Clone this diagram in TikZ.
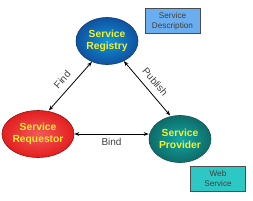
\documentclass[tikz,border=0pt]{standalone}
\usepackage{fontspec}
\setmainfont{Liberation Sans}
\usepackage{xcolor}
\usetikzlibrary{arrows.meta,shapes.geometric,positioning,calc}
\definecolor{regblue}{HTML}{1466C8}
\definecolor{reqred}{HTML}{F02020}
\definecolor{provteal}{HTML}{14908C}
\definecolor{descblue}{HTML}{6AAEF0}
\definecolor{webteal}{HTML}{2EC8C4}
\definecolor{txtyellow}{HTML}{F4F02A}

\begin{document}
\begin{tikzpicture}[
  x=1pt, y=-1pt,
  every node/.style={font=\small},
  party/.style={ellipse, minimum width=62pt, minimum height=47pt, inner sep=0pt,
    align=center, font=\fontsize{10.3}{12}\bfseries\selectfont, text=txtyellow, line width=0.6pt},
  infobox/.style={rectangle, draw=black!70, line width=0.8pt, minimum width=55pt,
    minimum height=25pt, align=center, font=\fontsize{8.2}{10}\selectfont, text=black!75},
  link/.style={{Stealth[length=5pt]}-{Stealth[length=5pt]}, line width=0.8pt},
  linklabel/.style={font=\fontsize{10}{12}\selectfont, text=black!75},
]
\useasboundingbox (0,0) rectangle (253,200);
\node[party, draw=regblue!60!black, inner color=regblue!70!cyan, outer color=regblue!80!black]
  (registry) at (107, 41) {Service\\Registry};
\node[party, draw=reqred!60!black, inner color=reqred!75!white, outer color=reqred!95!black]
  (requestor) at (38, 134) {Service\\Requestor};
\node[party, draw=provteal!60!black, inner color=provteal!80!cyan, outer color=provteal!75!black]
  (provider) at (180, 139) {Service\\Provider};
\node[infobox, fill=descblue] (desc) at (172.5, 21) {Service\\Description};
\node[infobox, fill=webteal] (web) at (218, 178.5) {Web\\Service};
% connectors
\draw[link, shorten <=1pt] (requestor.66) -- (registry.234)
  node[linklabel, midway, sloped, anchor=south, yshift=3pt] (find) {Find};
\draw[link, shorten >=1pt] (registry.310) -- (provider.112)
  node[linklabel, midway, sloped, anchor=south, yshift=3pt] (publish) {Publish};
\draw[link] (requestor.east) -- (provider.west |- requestor.east)
  node[linklabel, midway, below=1pt] (bind) {Bind};
\end{tikzpicture}
\end{document}
